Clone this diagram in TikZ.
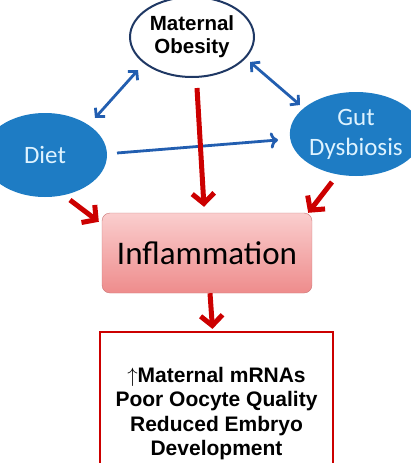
\documentclass[tikz,border=0pt]{standalone}
\usepackage{fontspec}
\setmainfont{Liberation Sans}
\newfontfamily\calibri{Carlito}
\usetikzlibrary{shapes.geometric,arrows.meta}
\definecolor{navy}{RGB}{31,56,100}
\definecolor{bubble}{RGB}{30,124,196}
\definecolor{bubbletext}{RGB}{222,243,255}
\definecolor{linkblue}{RGB}{34,94,176}
\definecolor{effect}{RGB}{204,0,0}
\definecolor{pinktop}{RGB}{250,206,206}
\definecolor{pinkbot}{RGB}{238,140,140}

\begin{document}
\begin{tikzpicture}[x=1pt, y=-1pt,
    factor/.style={ellipse, fill=bubble, text=bubbletext, inner sep=0pt,
                   minimum width=124pt, minimum height=84pt,
                   font=\calibri\fontsize{25}{30}\selectfont, align=center},
    obese/.style={ellipse, draw=navy, line width=2pt, fill=white, inner sep=0pt,
                  minimum width=124pt, minimum height=80pt,
                  font=\bfseries\fontsize{20.5}{23}\selectfont, align=center},
    inflbox/.style={draw=pinkbot!85!black, rounded corners=8pt,
                    top color=pinktop, bottom color=pinkbot,
                    minimum width=210pt, minimum height=80pt,
                    font=\calibri\fontsize{33}{38}\selectfont},
    resultbox/.style={draw=effect, line width=2.2pt, fill=white,
                      minimum width=233pt, minimum height=163pt,
                      font=\bfseries\fontsize{21}{24.5}\selectfont, align=center},
    link/.style={{Straight Barb[length=6pt,width=13pt]}-{Straight Barb[length=6pt,width=13pt]},
                 line width=2.8pt, color=linkblue},
    flow/.style={-{Straight Barb[length=10pt,width=22pt]}, line width=5pt, color=effect}
  ]
    \clip (0,0) rectangle (411,463);
    \node[obese]  (mo)   at (192,37)  {Maternal\\Obesity};
    \node[factor] (diet) at (45,155)  {Diet};
    \node[factor] (gut)  at (356,134) {Gut\\Dysbiosis};
    \node[inflbox]   (infl) at (207,253) {Inflammation};
    \node[resultbox] (out)  at (216.5,413.5)
      {$\uparrow$Maternal mRNAs\\Poor Oocyte Quality\\Reduced Embryo\\Development};

    \draw[link] ([shift={(50,-37)}]diet.center) -- ([shift={(-54,33)}]mo.center);
    \draw[link] ([shift={(58,25)}]mo.center) -- ([shift={(-56,-29)}]gut.center);
    \draw[link, <-] ([shift={(-78,6)}]gut.center) -- ([shift={(72,-2)}]diet.center);

    \draw[flow] ([shift={(5,51)}]mo.center) -- ([shift={(-3,-6)}]infl.north);
    \draw[flow] ([shift={(25,45)}]diet.center) -- ([shift={(-3,9)}]infl.north west);
    \draw[flow] ([shift={(-24,48)}]gut.center) -- ([shift={(-4,0)}]infl.north east);
    \draw[flow] ([shift={(3,0)}]infl.south) -- ([shift={(-4,-2)}]out.north);
  \end{tikzpicture}
\end{document}
